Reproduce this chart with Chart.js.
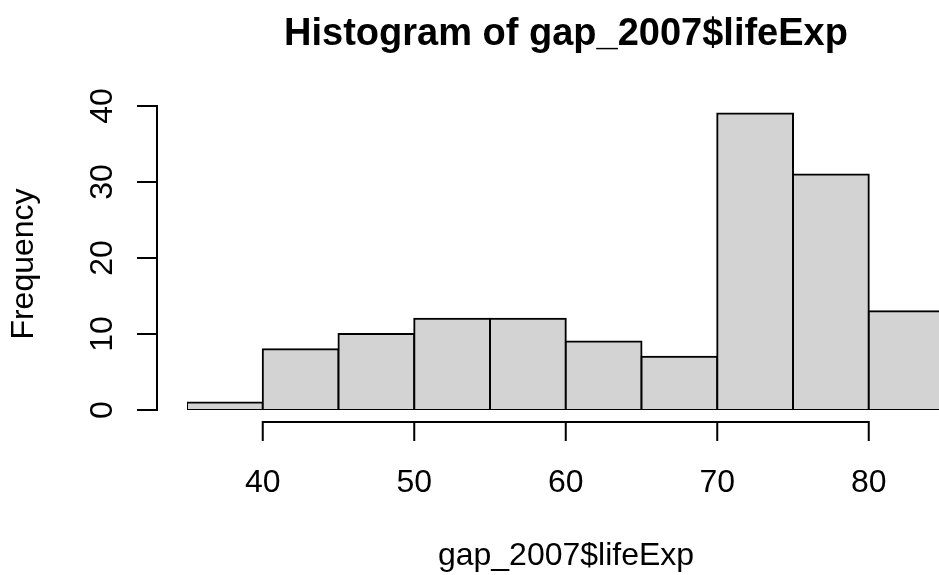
<!DOCTYPE html>
<html>
<head>
<meta charset="utf-8">
<title>Histogram of gap_2007$lifeExp</title>
<script src="https://cdn.jsdelivr.net/npm/chart.js@4"></script>
<style>
  html, body { margin: 0; padding: 0; background: #fff; overflow: hidden; }
  #wrap { width: 939px; height: 575px; overflow: hidden; }
  canvas { display: block; }
</style>
</head>
<body>
<div id="wrap">
  <canvas id="hist" width="946" height="575"></canvas>
</div>
<script>
// histogram bins (left edges) and counts
const binStarts = [35, 40, 45, 50, 55, 60, 65, 70, 75, 80];
const counts = [1, 8, 10, 12, 12, 9, 7, 39, 31, 13];
const binWidth = 5;

// axis ticks
const xTicks = [40, 50, 60, 70, 80];
const yTicks = [0, 10, 20, 30, 40];

const titleText = 'Histogram of gap_2007$lifeExp';
const xTitle = 'gap_2007$lifeExp';
const yTitle = 'Frequency';

const FONT = '"Liberation Sans", Arial, sans-serif';

// R-style axes: detached from the plot box, drawn from the chart's scales
const baseAxes = {
  id: 'baseAxes',
  afterDraw(chart) {
    const { ctx, chartArea } = chart;
    const xs = chart.scales.x;
    const ys = chart.scales.y;
    ctx.save();
    ctx.strokeStyle = '#000';
    ctx.fillStyle = '#000';
    ctx.lineWidth = 2;
    ctx.lineCap = 'butt';

    // y axis
    const ax = chartArea.left - 30;
    ctx.beginPath();
    ctx.moveTo(ax, ys.getPixelForValue(yTicks[0]) + 1);
    ctx.lineTo(ax, ys.getPixelForValue(yTicks[yTicks.length - 1]) - 1);
    yTicks.forEach(v => {
      const py = ys.getPixelForValue(v);
      ctx.moveTo(ax - 20, py);
      ctx.lineTo(ax + 1, py);
    });
    ctx.stroke();

    ctx.font = '32px ' + FONT;
    ctx.textAlign = 'center';
    ctx.textBaseline = 'alphabetic';
    yTicks.forEach(v => {
      ctx.save();
      ctx.translate(112, ys.getPixelForValue(v));
      ctx.rotate(-Math.PI / 2);
      ctx.fillText(String(v), 0, 0);
      ctx.restore();
    });

    // x axis
    const ay = chartArea.bottom + 12;
    ctx.beginPath();
    ctx.moveTo(xs.getPixelForValue(xTicks[0]) - 1, ay);
    ctx.lineTo(xs.getPixelForValue(xTicks[xTicks.length - 1]) + 1, ay);
    xTicks.forEach(v => {
      const px = xs.getPixelForValue(v);
      ctx.moveTo(px, ay - 1);
      ctx.lineTo(px, ay + 19);
    });
    ctx.stroke();

    xTicks.forEach(v => {
      ctx.fillText(String(v), xs.getPixelForValue(v), 492);
    });

    // axis titles, centred on the plot region
    const midX = 566;
    ctx.fillText(xTitle, midX, 565);
    ctx.save();
    ctx.translate(33, 264);
    ctx.rotate(-Math.PI / 2);
    ctx.fillText(yTitle, 0, 0);
    ctx.restore();

    // main title
    ctx.font = 'bold 38px ' + FONT;
    ctx.fillText(titleText, midX, 45);
    ctx.restore();
  }
};

new Chart(document.getElementById('hist'), {
  type: 'bar',
  data: {
    datasets: [{
      label: yTitle,
      data: binStarts.map((s, i) => ({ x: s + binWidth / 2, y: counts[i] })),
      backgroundColor: '#d3d3d3',
      borderColor: '#000',
      // 2px outline inflated by 1px so shared edges overlap like a centred stroke
      borderWidth: 2,
      inflateAmount: 1,
      borderSkipped: false,
      barPercentage: 1,
      categoryPercentage: 1
    }]
  },
  options: {
    responsive: false,
    animation: false,
    devicePixelRatio: 1,
    layout: { padding: { left: 187, right: 1.5, top: 106, bottom: 165 } },
    scales: {
      x: { type: 'linear', min: 35, max: 85, offset: false, display: false },
      y: { type: 'linear', min: 0, max: 40, display: false }
    },
    plugins: {
      legend: { display: false },
      title: { display: false },
      tooltip: { enabled: false }
    }
  },
  plugins: [baseAxes]
});
</script>
</body>
</html>
